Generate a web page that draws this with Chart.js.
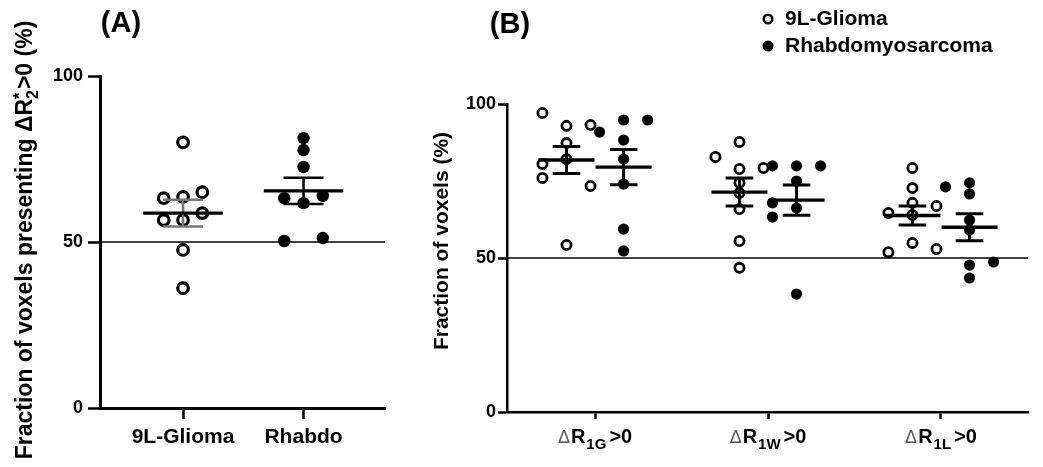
<!DOCTYPE html>
<html>
<head>
<meta charset="utf-8">
<script src="https://cdn.jsdelivr.net/npm/chart.js@4"></script>
<style>
  body { margin: 0; background: #fff; }
  #wrap { position: relative; width: 1043px; height: 467px; }
  #boxA { position: absolute; left: 0; top: 0; width: 410px; height: 467px; }
  #boxB { position: absolute; left: 410px; top: 0; width: 633px; height: 467px; }
</style>
</head>
<body>
<div id="wrap">
  <div id="boxA"><canvas id="chartA"></canvas></div>
  <div id="boxB"><canvas id="chartB"></canvas></div>
</div>
<script>
// ---- data ----
const groupsA = ['9L-Glioma', 'Rhabdo'];
const gliomaA = [80, 63.2, 63.6, 65, 56.6, 56.6, 58.7, 47.6, 36.1];
const rhabdoA = [81.3, 77.7, 72.6, 63.2, 61.7, 63.9, 50.3, 51.2];
const meanA = [58.7, 65.4];
const semA = [4.0, 3.95];

const groupsB = ['1G', '1W', '1L'];
const gliomaB = [
  [97.1, 92.9, 93.2, 87.3, 82.1, 80.5, 76.0, 73.4, 54.2],
  [82.8, 87.7, 78.9, 79.2, 74.4, 71.1, 65.9, 55.5, 46.8],
  [79.2, 72.7, 67.9, 66.9, 64.6, 64.0, 54.9, 52.9, 51.9]
];
const rhabdoB = [
  [90.9, 94.8, 94.8, 88.3, 82.1, 74.0, 59.4, 52.3],
  [79.9, 79.9, 79.9, 75.0, 67.9, 63.3, 66.2, 38.3],
  [73.1, 74.4, 70.8, 62.3, 59.1, 48.7, 47.7, 43.5]
];
const meanGliomaB = [81.8, 71.4, 63.8];
const semGliomaB = [4.4, 4.55, 3.1];
const meanRhabdoB = [79.5, 68.8, 60.0];
const semRhabdoB = [5.7, 4.9, 4.4];

const yTicks = [0, 50, 100];
const refLine = 50;

// scatter columns (jitter side of each point: -1 left, 0 centre, 1 right)
const colGliomaA = [0, -1, 0, 1, -1, 0, 1, 0, 0];
const colRhabdoA = [0, 0, 0, -1, 0, 1, -1, 1];
const colGliomaB = [[-1, 0, 1, 0, 0, -1, -1, 1, 0], [-1, 0, 0, 1, 0, 0, 0, 0, 0], [0, 0, 0, 1, -1, 0, 0, 1, -1]];
const colRhabdoB = [[-1, 0, 1, 0, 0, 0, 0, 0], [-1, 0, 1, 0, -1, -1, 0, 0], [-1, 0, 0, 0, 0, 1, 0, 0]];

const FONT = 'Arial, "Liberation Sans", sans-serif';

const toPts = (vals, cols, center, step) => vals.map((v, i) => ({ x: center + cols[i] * step, y: v }));

// horizontal reference line at 50
const refLinePlugin = {
  id: 'refLine',
  beforeDatasetsDraw(chart) {
    const { ctx, chartArea, scales } = chart;
    const y = scales.y.getPixelForValue(refLine);
    ctx.save();
    ctx.strokeStyle = '#000';
    ctx.lineWidth = 1.5;
    ctx.beginPath();
    ctx.moveTo(chartArea.left, y);
    ctx.lineTo(chartArea.right, y);
    ctx.stroke();
    ctx.restore();
  }
};

// mean + SEM bars
const meanSemPlugin = {
  id: 'meanSem',
  afterDatasetsDraw(chart, args, opts) {
    const { ctx, scales } = chart;
    const sx = scales.x, sy = scales.y;
    ctx.save();
    opts.items.forEach(it => {
      const yM = sy.getPixelForValue(it.mean);
      const yHi = sy.getPixelForValue(it.mean + it.sem);
      const yLo = sy.getPixelForValue(it.mean - it.sem);
      const xc = sx.getPixelForValue(it.x);
      ctx.strokeStyle = it.color;
      ctx.lineWidth = opts.capWidth;
      ctx.beginPath();
      ctx.moveTo(xc, yHi); ctx.lineTo(xc, yLo);
      ctx.moveTo(sx.getPixelForValue(it.x - opts.capHalf), yHi);
      ctx.lineTo(sx.getPixelForValue(it.x + opts.capHalf), yHi);
      ctx.moveTo(sx.getPixelForValue(it.x - opts.capHalf), yLo);
      ctx.lineTo(sx.getPixelForValue(it.x + opts.capHalf), yLo);
      ctx.stroke();
      ctx.strokeStyle = '#000';
      ctx.lineWidth = opts.meanWidth;
      ctx.beginPath();
      ctx.moveTo(sx.getPixelForValue(it.x - opts.meanHalf), yM);
      ctx.lineTo(sx.getPixelForValue(it.x + opts.meanHalf), yM);
      ctx.stroke();
    });
    ctx.restore();
  }
};

// draws a run of text parts centred on (0,0) of the current transform
function drawParts(ctx, parts) {
  let total = 0;
  parts.forEach(p => {
    ctx.font = p.font;
    p.w = ctx.measureText(p.t).width;
    if (!p.stack) total += (p.gap || 0) + p.w;
  });
  let x = -total / 2;
  let prevX = x;
  parts.forEach(p => {
    ctx.font = p.font;
    ctx.fillStyle = p.color || '#000';
    if (p.stack) {
      ctx.fillText(p.t, prevX, p.dy || 0);
      return;
    }
    x += p.gap || 0;
    prevX = x;
    ctx.fillText(p.t, x, p.dy || 0);
    x += p.w;
  });
}

const textA = {
  id: 'textA',
  afterDraw(chart) {
    const ctx = chart.ctx;
    ctx.save();
    ctx.textBaseline = 'middle';
    ctx.textAlign = 'center';
    ctx.fillStyle = '#000';
    ctx.font = `bold 29px ${FONT}`;
    ctx.fillText('(A)', 121, 24);

    ctx.textAlign = 'left';
    ctx.textBaseline = 'alphabetic';
    ctx.translate(32, 240);
    ctx.rotate(-Math.PI / 2);
    drawParts(ctx, [
      { t: 'Fraction of voxels presenting \u0394R', font: `bold 23px ${FONT}` },
      { t: '2', font: `bold 16px ${FONT}`, dy: 6 },
      { t: '*', font: `bold 17px ${FONT}`, dy: -7, stack: true },
      { t: '>0 (%)', font: `bold 23px ${FONT}`, gap: 1 }
    ]);
    ctx.restore();
  }
};

const textB = {
  id: 'textB',
  afterDraw(chart) {
    const { ctx, scales } = chart;
    ctx.save();
    ctx.fillStyle = '#000';
    ctx.textAlign = 'center';
    ctx.textBaseline = 'middle';
    ctx.font = `bold 29px ${FONT}`;
    ctx.fillText('(B)', 100, 25);

    // legend
    ctx.lineWidth = 2.5;
    ctx.strokeStyle = '#000';
    ctx.beginPath(); ctx.arc(358, 19, 4.3, 0, Math.PI * 2); ctx.fillStyle = '#fff'; ctx.fill(); ctx.stroke();
    ctx.beginPath(); ctx.arc(358, 46, 5.5, 0, Math.PI * 2); ctx.fillStyle = '#000'; ctx.fill();
    ctx.textAlign = 'left';
    ctx.font = `bold 21px ${FONT}`;
    ctx.fillText('9L-Glioma', 375, 19);
    ctx.fillText('Rhabdomyosarcoma', 375, 46);

    // x tick labels with subscripts
    ctx.textBaseline = 'alphabetic';
    groupsB.forEach((sub, i) => {
      ctx.save();
      ctx.translate(scales.x.getPixelForValue(i), 443);
      drawParts(ctx, [
        { t: '\u0394', font: `18px ${FONT}`, color: '#555' },
        { t: 'R', font: `bold 20px ${FONT}`, gap: 1 },
        { t: sub, font: `bold 15px ${FONT}`, dy: 6, gap: 1 },
        { t: '>0', font: `bold 20px ${FONT}`, gap: 3 }
      ]);
      ctx.restore();
    });

    // y title
    ctx.translate(38, 241);
    ctx.rotate(-Math.PI / 2);
    drawParts(ctx, [{ t: 'Fraction of voxels (%)', font: `bold 21px ${FONT}` }]);
    ctx.restore();
  }
};

function yAxis(width, tickLen, pad, border) {
  return {
    min: 0, max: 100,
    afterBuildTicks: s => { s.ticks = yTicks.map(v => ({ value: v })); },
    afterFit: s => { s.width = width; },
    grid: { drawOnChartArea: false, drawTicks: true, tickLength: tickLen, tickWidth: 2.5, tickColor: '#000' },
    border: { display: true, color: '#000', width: border },
    ticks: { color: '#000', padding: pad, font: { family: FONT, size: 18, weight: 'bold' } }
  };
}

function pointSet(data, filled, r, bw) {
  return {
    data,
    pointRadius: r,
    pointHoverRadius: r,
    pointBorderWidth: bw,
    pointBorderColor: '#000',
    pointBackgroundColor: filled ? '#000' : '#fff',
    clip: false
  };
}

// ---- panel A ----
new Chart(document.getElementById('chartA'), {
  type: 'scatter',
  data: {
    datasets: [
      pointSet(toPts(gliomaA, colGliomaA, 0, 0.16), false, 5.3, 3.2),
      pointSet(toPts(rhabdoA, colRhabdoA, 1, 0.16), true, 6.2, 0)
    ]
  },
  options: {
    responsive: true,
    maintainAspectRatio: false,
    animation: false,
    layout: { padding: { left: 0, top: 76, right: 25, bottom: 0 } },
    plugins: {
      legend: { display: false },
      tooltip: { enabled: false },
      meanSem: {
        meanHalf: 0.33, capHalf: 0.166, meanWidth: 3.2, capWidth: 2.5,
        items: [
          { x: 0, mean: meanA[0], sem: semA[0], color: '#777' },
          { x: 1, mean: meanA[1], sem: semA[1], color: '#000' }
        ]
      }
    },
    scales: {
      x: {
        type: 'linear', min: -0.689, max: 1.676,
        afterBuildTicks: s => { s.ticks = groupsA.map((_, i) => ({ value: i })); },
        afterFit: s => { s.height = 59; },
        grid: { drawOnChartArea: false, drawTicks: true, tickLength: 11, tickWidth: 2.5, tickColor: '#000' },
        border: { display: true, color: '#000', width: 3 },
        ticks: {
          color: '#000', padding: 6, maxRotation: 0, autoSkip: false,
          font: { family: FONT, size: 21, weight: 'bold' },
          callback: v => groupsA[v]
        }
      },
      y: yAxis(100, 12, 5, 3)
    }
  },
  plugins: [refLinePlugin, meanSemPlugin, textA]
});

// ---- panel B ----
const gOff = -0.165, rOff = 0.165, stepB = 0.139;
const itemsB = [];
groupsB.forEach((_, i) => {
  itemsB.push({ x: i + gOff, mean: meanGliomaB[i], sem: semGliomaB[i], color: '#000' });
  itemsB.push({ x: i + rOff, mean: meanRhabdoB[i], sem: semRhabdoB[i], color: '#000' });
});

new Chart(document.getElementById('chartB'), {
  type: 'scatter',
  data: {
    datasets: [
      pointSet(gliomaB.flatMap((vals, i) => toPts(vals, colGliomaB[i], i + gOff, stepB)), false, 4.6, 2.8),
      pointSet(rhabdoB.flatMap((vals, i) => toPts(vals, colRhabdoB[i], i + rOff, stepB)), true, 5.6, 0)
    ]
  },
  options: {
    responsive: true,
    maintainAspectRatio: false,
    animation: false,
    layout: { padding: { left: 0, top: 104, right: 15, bottom: 0 } },
    plugins: {
      legend: { display: false },
      tooltip: { enabled: false },
      meanSem: { meanHalf: 0.162, capHalf: 0.08, meanWidth: 3.4, capWidth: 3, items: itemsB }
    },
    scales: {
      x: {
        type: 'linear', min: -0.509, max: 2.503,
        afterBuildTicks: s => { s.ticks = groupsB.map((_, i) => ({ value: i })); },
        afterFit: s => { s.height = 55; },
        grid: { drawOnChartArea: false, drawTicks: true, tickLength: 7, tickWidth: 2.5, tickColor: '#000' },
        border: { display: true, color: '#000', width: 2.5 },
        ticks: { display: false }
      },
      y: yAxis(97, 9, 2, 2.5)
    }
  },
  plugins: [refLinePlugin, meanSemPlugin, textB]
});
</script>
</body>
</html>
